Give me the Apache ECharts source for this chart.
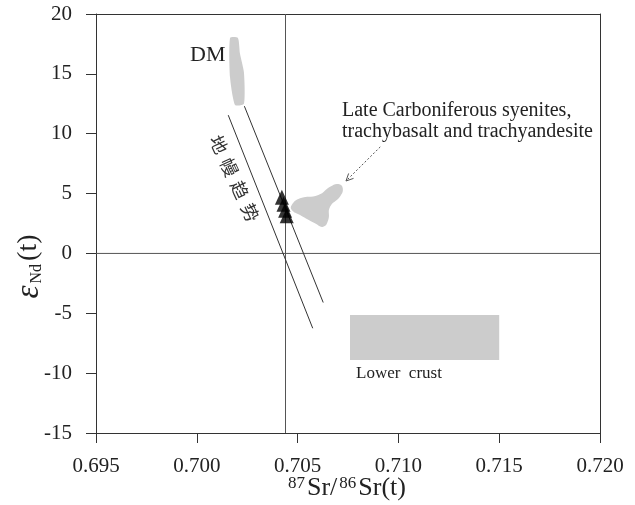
<!DOCTYPE html>
<html>
<head>
<meta charset="utf-8">
<script src="https://cdn.jsdelivr.net/npm/echarts@6/dist/echarts.min.js"></script>
<style>
html, body { margin: 0; padding: 0; background: #fff; }
#main { width: 635px; height: 505px; }
</style>
</head>
<body>
<div id="main"></div>
<script>
// axis ranges
const xMin = 0.695, xMax = 0.720, xStep = 0.005;
const yMin = -15, yMax = 20, yStep = 5;

// reference lines (eNd = 0 and bulk earth Sr)
const zeroLine = [[0.695, 0], [0.720, 0]];
const bulkSrLine = [[0.7044, -15], [0.7044, 20]];

// mantle array lines
const trendUpper = [[0.70236, 12.3], [0.70627, -4.1]];
const trendLower = [[0.70156, 11.55], [0.70575, -6.25]];

// fields
const dmField = [
  [0.70165, 18.0], [0.70204, 18.0], [0.70214, 16.7], [0.70234, 15.1],
  [0.70234, 12.5], [0.70190, 12.4], [0.70165, 14.7]
];
const syeniteField = [
  [0.70471, 4.04], [0.70512, 4.60], [0.70603, 4.88], [0.70661, 5.57],
  [0.70702, 5.80], [0.70724, 5.44], [0.70710, 4.74], [0.70661, 3.90],
  [0.70652, 2.79], [0.70627, 2.23], [0.70586, 2.52], [0.70512, 3.21],
  [0.70471, 3.63]
];
const lowerCrust = [[0.7076, -5.15], [0.7150, -5.15], [0.7150, -8.9], [0.7076, -8.9]];

// samples
const sampleSr = [0.70422, 0.70430, 0.70438, 0.70446];
const sampleNd = [4.7, 4.1, 3.6, 3.15];

// annotation arrow (from label to field)
const arrowPts = [[0.7091, 8.9], [0.7074, 6.05]];

const serif = '"Liberation Serif", "DejaVu Serif", serif';
const axisColor = '#333';
const textColor = '#222';

function fieldSeries(pts, smooth) {
  return {
    type: 'custom',
    coordinateSystem: 'cartesian2d',
    silent: true,
    z: 1,
    data: pts,
    renderItem(params, api) {
      if (params.dataIndex !== 0) return null;
      return {
        type: 'polygon',
        shape: { points: pts.map(p => api.coord(p)), smooth: smooth },
        style: { fill: '#cccccc' }
      };
    }
  };
}

function lineSeries(pts, color) {
  return {
    type: 'line',
    data: pts,
    symbol: 'none',
    silent: true,
    z: 3,
    lineStyle: { color: color, width: 1 }
  };
}

const chart = echarts.init(document.getElementById('main'));

chart.setOption({
  animation: false,
  backgroundColor: '#fff',
  grid: { left: 96, right: 35, top: 14, bottom: 72, containLabel: false, outerBoundsMode: 'none' },
  xAxis: [{
    type: 'value',
    min: xMin, max: xMax, interval: xStep,
    axisLine: { onZero: false, lineStyle: { color: axisColor, width: 1 } },
    axisTick: { length: 10, lineStyle: { color: axisColor } },
    splitLine: { show: false },
    axisLabel: {
      formatter: v => v.toFixed(3),
      fontFamily: serif, fontSize: 21, color: textColor, margin: 23
    }
  }, {
    type: 'value',
    position: 'top',
    min: xMin, max: xMax,
    axisLine: { onZero: false, lineStyle: { color: axisColor, width: 1 } },
    axisTick: { show: false },
    axisLabel: { show: false },
    splitLine: { show: false }
  }],
  yAxis: [{
    type: 'value',
    min: yMin, max: yMax, interval: yStep,
    axisLine: { onZero: false, lineStyle: { color: axisColor, width: 1 } },
    axisTick: { length: 10, lineStyle: { color: axisColor } },
    splitLine: { show: false },
    axisLabel: { fontFamily: serif, fontSize: 21, color: textColor, margin: 24 }
  }, {
    type: 'value',
    position: 'right',
    min: yMin, max: yMax,
    axisLine: { onZero: false, lineStyle: { color: axisColor, width: 1 } },
    axisTick: { show: false },
    axisLabel: { show: false },
    splitLine: { show: false }
  }],
  series: [
    fieldSeries(dmField, 0.2),
    fieldSeries(syeniteField, 0.5),
    fieldSeries(lowerCrust, 0),
    lineSeries(zeroLine, '#555'),
    lineSeries(bulkSrLine, '#555'),
    lineSeries(trendUpper, '#333'),
    lineSeries(trendLower, '#333'),
    {
      type: 'scatter',
      symbol: 'triangle',
      symbolSize: [14, 15],
      silent: true,
      z: 5,
      itemStyle: { color: '#000' },
      data: sampleSr.map((x, i) => [x, sampleNd[i]])
    },
    {
      type: 'custom',
      coordinateSystem: 'cartesian2d',
      silent: true,
      z: 4,
      data: arrowPts,
      renderItem(params, api) {
        if (params.dataIndex !== 0) return null;
        const a = api.coord(arrowPts[0]);
        const b = api.coord(arrowPts[1]);
        const ang = Math.atan2(a[1] - b[1], a[0] - b[0]);
        const len = 8, spread = 0.45;
        const h1 = [b[0] + len * Math.cos(ang + spread), b[1] + len * Math.sin(ang + spread)];
        const h2 = [b[0] + len * Math.cos(ang - spread), b[1] + len * Math.sin(ang - spread)];
        return {
          type: 'group',
          children: [
            { type: 'line', shape: { x1: a[0], y1: a[1], x2: b[0], y2: b[1] },
              style: { stroke: '#555', lineWidth: 1, lineDash: [2, 2] } },
            { type: 'polyline', shape: { points: [h1, b, h2] },
              style: { stroke: '#555', lineWidth: 1, fill: 'none' } }
          ]
        };
      }
    }
  ],
  graphic: [
    // x axis title
    { type: 'text', x: 347, y: 488,
      style: {
        text: '{sup|87}{m|Sr/}{sup|86}{m|Sr(t)}', align: 'center', verticalAlign: 'middle',
        rich: {
          m: { fontFamily: serif, fontSize: 26, fill: textColor, lineHeight: 26, padding: [0, 1] },
          sup: { fontFamily: serif, fontSize: 17, fill: textColor, verticalAlign: 'top', lineHeight: 17, padding: [0, 1] }
        }
      } },
    // y axis title, rotated
    { type: 'text', x: 29, y: 266, rotation: Math.PI / 2,
      style: {
        text: '{e|ε}{sub|Nd}{m|(t)}', align: 'center', verticalAlign: 'middle',
        rich: {
          e: { fontFamily: serif, fontSize: 33, fontStyle: 'italic', fill: textColor, lineHeight: 32, padding: [0, 2, 0, 0] },
          sub: { fontFamily: serif, fontSize: 16, fill: textColor, verticalAlign: 'bottom', lineHeight: 16, padding: [0, 2, 0, 0] },
          m: { fontFamily: serif, fontSize: 28, fill: textColor, lineHeight: 32, padding: [0, 1] }
        }
      } },
    { type: 'text', left: 190, top: 44,
      style: { text: 'DM', font: '22px ' + serif, fill: textColor } },
    { type: 'text', left: 342, top: 101,
      style: { text: 'Late Carboniferous syenites,', font: '20px ' + serif, fill: textColor } },
    { type: 'text', left: 342, top: 122,
      style: { text: 'trachybasalt and trachyandesite', font: '20px ' + serif, fill: textColor } },
    { type: 'text', left: 356, top: 365,
      style: { text: 'Lower  crust', font: '17px ' + serif, fill: textColor } },
    { type: 'text', x: 234.5, y: 178.5, rotation: -65 * Math.PI / 180,
      style: {
        text: '{c|地}{c|幔}{c|趋}{c|势}', align: 'center', verticalAlign: 'middle',
        rich: { c: { fontFamily: '"Noto Sans CJK SC"', fontSize: 18, fill: '#333', padding: [0, 3.5] } }
      } }
  ]
});
</script>
</body>
</html>
